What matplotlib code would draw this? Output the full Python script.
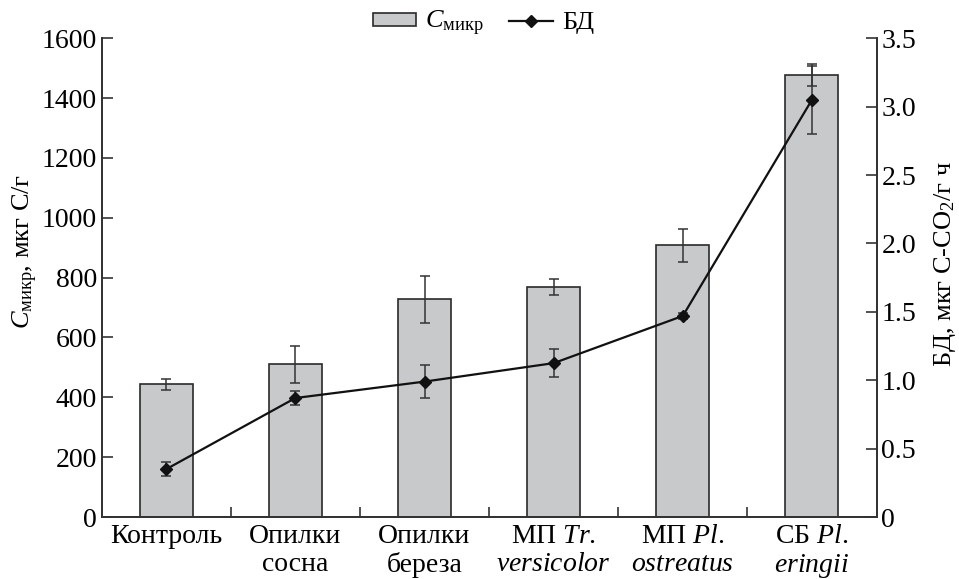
import numpy as np
import matplotlib
matplotlib.use("Agg")
import matplotlib.pyplot as plt
from matplotlib.lines import Line2D
from matplotlib.patches import Patch

plt.rcParams['font.family'] = 'serif'
plt.rcParams['font.serif'] = ['Liberation Serif', 'DejaVu Serif']
plt.rcParams['mathtext.fontset'] = 'custom'
plt.rcParams['mathtext.rm'] = 'Liberation Serif'
plt.rcParams['mathtext.it'] = 'Liberation Serif:italic'
FF = "Liberation Serif"

# data
labels = ["Контроль", "Опилки\nсосна", "Опилки\nбереза",
          "МП $\\it{Tr}$.\n$\\it{versicolor}$", "МП $\\it{Pl}$.\n$\\it{ostreatus}$",
          "СБ $\\it{Pl}$.\n$\\it{eringii}$"]
c_mic = [443, 510, 728, 768, 908, 1478]
c_mic_err = [18, 63, 78, 27, 55, 37]
bd = [0.35, 0.87, 0.99, 1.125, 1.47, 3.05]
bd_err = [0.05, 0.05, 0.12, 0.10, 0.02, 0.25]

x = np.arange(len(labels))

fig = plt.figure(figsize=(9.59, 5.79), dpi=100)
ax = fig.add_axes([0.106, 0.107, 0.808, 0.827])
ax2 = ax.twinx()

ax.bar(x, c_mic, width=0.41, color="#c8c9cb", edgecolor="#2a2a2a", linewidth=1.2, zorder=2)
ax.errorbar(x, c_mic, yerr=c_mic_err, fmt="none", ecolor="#333333",
            elinewidth=1.1, capsize=3.8, capthick=1.1, zorder=3)

ax2.errorbar(x, bd, yerr=bd_err, fmt="none", ecolor="#333333",
             elinewidth=1.1, capsize=3.8, capthick=1.1, zorder=3)
ax2.plot(x, bd, color="#111111", linewidth=1.6, marker="D", markersize=6.5, zorder=4)

ax.set_xlim(-0.5, 5.5)
ax.set_ylim(0, 1600)
ax2.set_ylim(0, 3.5)
ax.set_yticks(np.arange(0, 1601, 200))
ax.set_yticklabels([str(v) for v in range(0, 1601, 200)], fontfamily=FF, fontsize=20)
ax2.set_yticks(np.arange(0, 3.51, 0.5))
ax2.set_yticklabels(["0"] + [f"{v:.1f}" for v in np.arange(0.5, 3.51, 0.5)],
                    fontfamily=FF, fontsize=20)

ax.set_xticks(x)
ax.set_xticklabels(labels, fontsize=20, fontfamily=FF, linespacing=1.15)
ax.set_xticks(np.arange(0.5, 5.0, 1.0), minor=True)
ax.tick_params(axis="x", which="major", length=0, pad=5)
ax.tick_params(axis="x", which="minor", direction="in", length=7, width=1.2, color="#333333")
ax.tick_params(axis="y", direction="in", length=8, width=1.2, color="#333333")
ax2.tick_params(axis="y", direction="in", length=8, width=1.2, color="#333333")

for a in (ax, ax2):
    a.spines["top"].set_visible(False)
    for s in ("left", "right", "bottom"):
        a.spines[s].set_linewidth(1.3)
        a.spines[s].set_color("#333333")

ax.set_ylabel("$C_{\\mathrm{микр}}$, мкг С/г", fontsize=19, fontfamily=FF)
ax.yaxis.set_label_coords(-0.08, 0.555)
ax2.set_ylabel("БД, мкг С-CO$_2$/г ч", fontsize=19, fontfamily=FF)
ax2.yaxis.set_label_coords(1.072, 0.528)

handles = [Patch(facecolor="#c8c9cb", edgecolor="#2a2a2a", linewidth=1.2),
           Line2D([0], [0], color="#111111", linewidth=1.6, marker="D", markersize=6)]
fig.legend(handles, ["$C_{\\mathrm{микр}}$", "БД"], loc="upper center",
           bbox_to_anchor=(0.504, 1.025), ncol=2, frameon=False,
           prop={"family": FF, "size": 19},
           handlelength=1.65, handleheight=0.35, columnspacing=0.95, handletextpad=0.35)

fig.savefig("out.png", dpi=100)
